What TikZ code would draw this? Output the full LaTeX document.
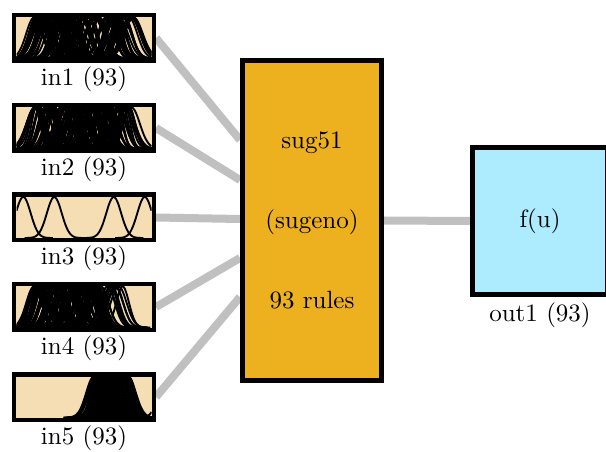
\documentclass[tikz,border=0pt]{standalone}
\usetikzlibrary{calc,backgrounds}

\definecolor{mfbg}{RGB}{245,222,179}
\definecolor{fisfill}{RGB}{237,177,32}
\definecolor{outfill}{RGB}{173,235,255}
\definecolor{wiregray}{RGB}{192,192,192}

\tikzset{
  inbox/.style={draw=black, line width=1.8pt, fill=mfbg, minimum width=55.8pt,
    minimum height=18.2pt, inner sep=0pt},
  fisnode/.style={draw=black, line width=2pt, fill=fisfill, minimum width=55.6pt,
    minimum height=128pt, inner sep=0pt, align=center,
    font=\fontsize{10}{32}\selectfont},
  outnode/.style={draw=black, line width=2pt, fill=outfill, minimum width=54pt,
    minimum height=58.8pt, inner sep=0pt},
  lbl/.style={inner sep=0pt},
  wire/.style={draw=wiregray, line width=3.2pt},
  mf/.style={line width=0.75pt, draw=black},
}

% Gaussian membership curves inside an input box:
% #1 box, #2 count, #3 min centre, #4 max centre, #5 min sigma, #6 max sigma
\newcommand\mfcurves[6]{%
  \begin{scope}[shift={($(#1.center)+(-67.5,20.5)$)}, x=54pt, y=16.4pt]
    \clip (0,0) rectangle (1,1);
    \foreach \k in {1,...,#2}{
      \pgfmathsetmacro\mfc{#3+(#4-#3)*rnd}
      \pgfmathsetmacro\mfs{#5+(#6-#5)*rnd}
      \pgfmathsetmacro\mfa{max(0,\mfc-4*\mfs)}
      \pgfmathsetmacro\mfb{min(1,\mfc+4*\mfs)}
      \draw[mf] plot[domain=\mfa:\mfb, samples=30, smooth]
        (\x,{exp(-((\x-\mfc)^2)/(2*\mfs*\mfs))});
    }
  \end{scope}}

% a single Gaussian curve: #1 box, #2 centre, #3 sigma
\newcommand\mfone[3]{%
  \begin{scope}[shift={($(#1.center)+(-67.5,20.5)$)}, x=54pt, y=16.4pt]
    \clip (0,0) rectangle (1,1);
    \draw[mf] plot[domain={max(0,#2-4*#3)}:{min(1,#2+4*#3)}, samples=40, smooth]
      (\x,{exp(-((\x-#2)^2)/(2*#3*#3))});
  \end{scope}}

\begin{document}
\begin{tikzpicture}[x=0.4pt, y=-0.4pt]
  \useasboundingbox (0,0) rectangle (606,452);

  % input boxes
  \node[inbox] (in1) at (84,38) {};
  \node[inbox] (in2) at (84,128) {};
  \node[inbox] (in3) at (84,217.5) {};
  \node[inbox] (in4) at (84,307) {};
  \node[inbox] (in5) at (84,397) {};

  % membership functions
  \pgfmathsetseed{1234}
  \mfcurves{in1}{93}{0.13}{0.87}{0.04}{0.07}
  \pgfmathsetseed{4321}
  \mfcurves{in2}{93}{0.13}{0.87}{0.035}{0.065}
  \mfone{in3}{0.05}{0.055}
  \mfone{in3}{0.28}{0.055}
  \mfone{in3}{0.72}{0.055}
  \mfone{in3}{0.95}{0.055}
  \pgfmathsetseed{777}
  \mfcurves{in4}{82}{0.12}{0.62}{0.04}{0.065}
  \pgfmathsetseed{778}
  \mfcurves{in4}{11}{0.62}{0.79}{0.045}{0.06}
  \pgfmathsetseed{999}
  \mfcurves{in5}{92}{0.57}{0.83}{0.04}{0.06}
  \mfone{in5}{1.1}{0.05}

  % input labels
  \node[lbl] (in1lab) at ($(in1.center)+(0,41)$) {in1 (93)};
  \node[lbl] (in2lab) at ($(in2.center)+(0,41)$) {in2 (93)};
  \node[lbl] (in3lab) at ($(in3.center)+(0,41)$) {in3 (93)};
  \node[lbl] (in4lab) at ($(in4.center)+(0,41)$) {in4 (93)};
  \node[lbl] (in5lab) at ($(in5.center)+(0,41)$) {in5 (93)};

  % inference system and output
  \node[fisnode] (fis) at (312,220.5) {sug51\\(sugeno)\\93 rules};
  \node[outnode] (out1) at (540,221) {f(u)};
  \node[lbl] (out1lab) at ($(out1.center)+(0,94)$) {out1 (93)};

  % wire ends on the system block
  \coordinate (w1) at ($(fis.west)+(0,-80.5)$);
  \coordinate (w2) at ($(fis.west)+(0,-40.5)$);
  \coordinate (w3) at ($(fis.west)+(0,-1.5)$);
  \coordinate (w4) at ($(fis.west)+(0,37.5)$);
  \coordinate (w5) at ($(fis.west)+(0,76.5)$);

  \begin{scope}[on background layer]
    \draw[wire] (in1.east) -- (w1);
    \draw[wire] (in2.east) -- (w2);
    \draw[wire] (in3.east) -- (w3);
    \draw[wire] (in4.east) -- (w4);
    \draw[wire] (in5.east) -- (w5);
    \draw[wire] (fis.east) -- (out1.west);
  \end{scope}
\end{tikzpicture}
\end{document}
